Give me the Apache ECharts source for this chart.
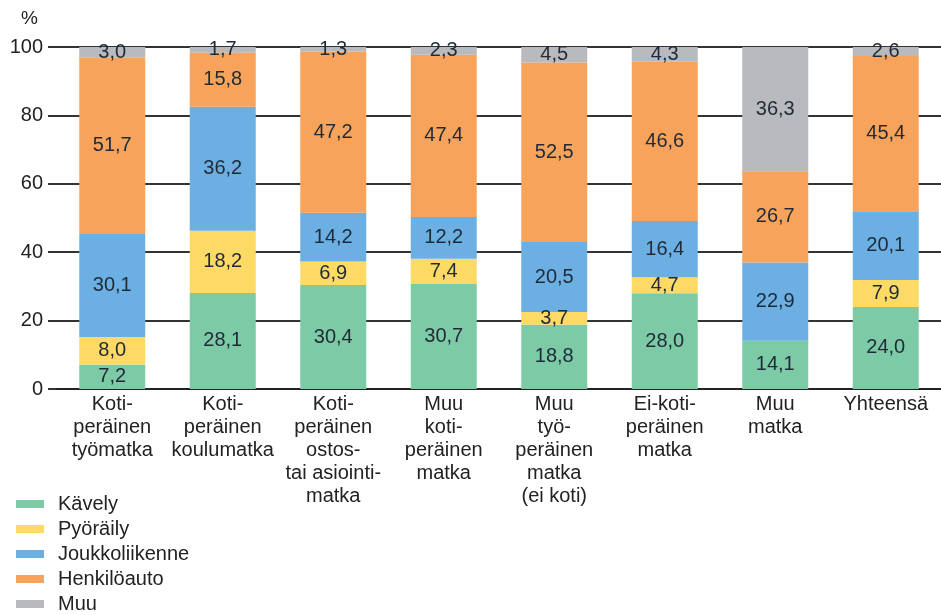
<!DOCTYPE html>
<html>
<head>
<meta charset="utf-8">
<script src="https://cdn.jsdelivr.net/npm/echarts@6/dist/echarts.min.js"></script>
<style>
  html, body { margin: 0; padding: 0; background: #fff; }
  #chart { width: 941px; height: 615px; }
</style>
</head>
<body>
<div id="chart"></div>
<script>
  var categories = [
    'Koti-\nperäinen\ntyömatka',
    'Koti-\nperäinen\nkoulumatka',
    'Koti-\nperäinen\nostos-\ntai asiointi-\nmatka',
    'Muu\nkoti-\nperäinen\nmatka',
    'Muu\ntyö-\nperäinen\nmatka\n(ei koti)',
    'Ei-koti-\nperäinen\nmatka',
    'Muu\nmatka',
    'Yhteensä'
  ];
  var kavely = [7.2, 28.1, 30.4, 30.7, 18.8, 28.0, 14.1, 24.0];
  var pyoraily = [8.0, 18.2, 6.9, 7.4, 3.7, 4.7, 0, 7.9];
  var joukkoliikenne = [30.1, 36.2, 14.2, 12.2, 20.5, 16.4, 22.9, 20.1];
  var henkiloauto = [51.7, 15.8, 47.2, 47.4, 52.5, 46.6, 26.7, 45.4];
  var muu = [3.0, 1.7, 1.3, 2.3, 4.5, 4.3, 36.3, 2.6];
  var yTicks = [0, 20, 40, 60, 80, 100];

  var seriesDefs = [
    {name: 'Kävely', data: kavely, color: '#7ccba6'},
    {name: 'Pyöräily', data: pyoraily, color: '#fdd966'},
    {name: 'Joukkoliikenne', data: joukkoliikenne, color: '#6cb0e3'},
    {name: 'Henkilöauto', data: henkiloauto, color: '#f7a35c'},
    {name: 'Muu', data: muu, color: '#b9babd'}
  ];

  var font = 'Liberation Sans, Arial, sans-serif';
  var myChart = echarts.init(document.getElementById('chart'));

  var series = seriesDefs.map(function (s) {
    return {
      name: s.name,
      type: 'bar',
      stack: 'total',
      data: s.data,
      barWidth: 66,
      itemStyle: {color: s.color},
      label: {
        show: true,
        position: 'inside',
        fontFamily: font,
        fontSize: 20,
        color: '#1f2a36',
        formatter: function (p) {
          return p.value ? p.value.toFixed(1).replace('.', ',') : '';
        }
      }
    };
  });

  myChart.setOption({
    animation: false,
    title: {
      text: '%',
      left: 16,
      top: 4,
      textStyle: {fontFamily: font, fontSize: 19, fontWeight: 'normal', color: '#222'}
    },
    legend: {
      orient: 'vertical',
      left: 11,
      top: 489,
      height: 130,
      itemWidth: 28,
      itemHeight: 8,
      itemGap: 5,
      icon: 'rect',
      data: seriesDefs.map(function (s) { return s.name; }),
      textStyle: {fontFamily: font, fontSize: 20, color: '#222', lineHeight: 20, padding: [0, 0, 0, 9]}
    },
    // grid 0 holds the bars, grid 1 only draws the horizontal rules from further left
    grid: [
      {left: 57, right: -6, top: 47, bottom: 226},
      {left: 48, right: -6, top: 47, bottom: 226}
    ],
    xAxis: [
      {
        type: 'category',
        gridIndex: 0,
        data: categories,
        axisTick: {show: false},
        axisLine: {lineStyle: {color: '#222', width: 2}},
        axisLabel: {
          fontFamily: font,
          fontSize: 20,
          lineHeight: 23,
          color: '#222',
          margin: 4,
          interval: 0
        }
      },
      {
        type: 'value',
        gridIndex: 1,
        show: false
      }
    ],
    yAxis: [
      {
        type: 'value',
        gridIndex: 0,
        min: yTicks[0],
        max: yTicks[yTicks.length - 1],
        interval: 20,
        axisLine: {show: false},
        axisTick: {show: false},
        axisLabel: {fontFamily: font, fontSize: 20, color: '#222', margin: 14},
        splitLine: {show: false}
      },
      {
        type: 'value',
        gridIndex: 1,
        min: yTicks[0],
        max: yTicks[yTicks.length - 1],
        interval: 20,
        axisLine: {show: false},
        axisTick: {show: false},
        axisLabel: {show: false},
        splitLine: {lineStyle: {color: '#333', width: 2}}
      }
    ],
    series: series
  });
</script>
</body>
</html>
